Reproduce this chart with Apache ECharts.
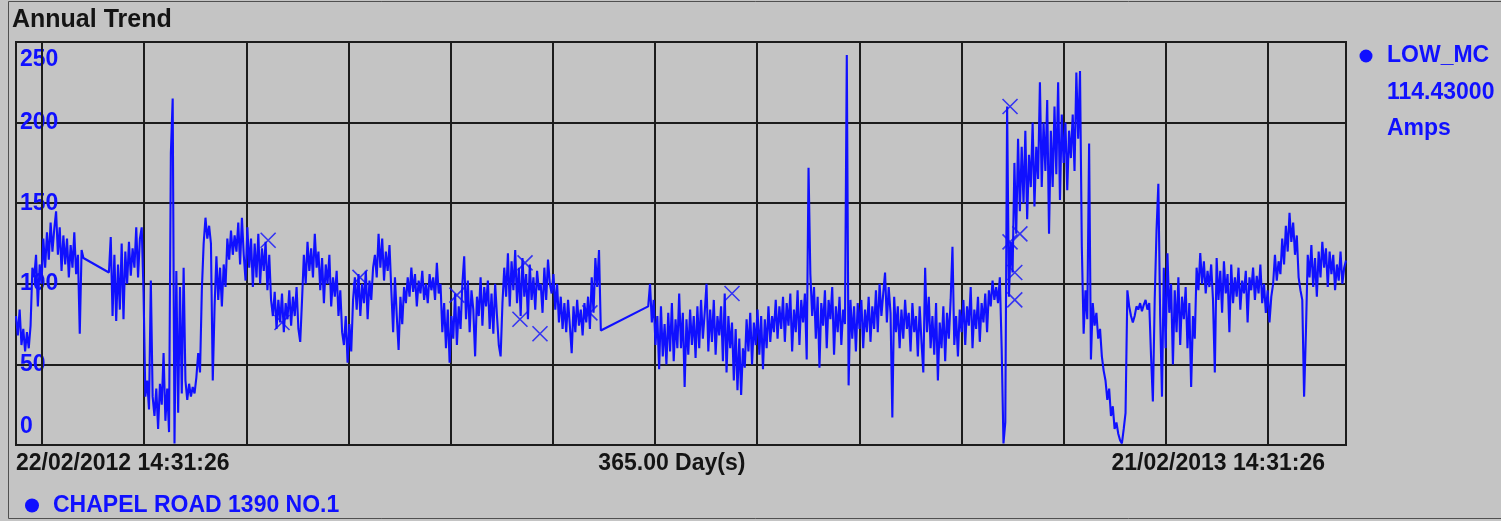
<!DOCTYPE html>
<html>
<head>
<meta charset="utf-8">
<title>Annual Trend</title>
<script src="https://cdn.jsdelivr.net/npm/echarts@6/dist/echarts.min.js"></script>
<style>
  html, body { margin: 0; padding: 0; background: #c4c4c4; }
  #chart { width: 1501px; height: 521px; }
</style>
</head>
<body>
<div id="chart"></div>
<script>
// ---- Trend data: load current in amps, sampled every half day ----
const SERIES_NAME = 'CHAPEL ROAD 1390 NO.1';
const STEP_DAYS = 0.5;
const segmentStartDays = [0, 25.5, 173.5];

// days 0 - 18.5
const ampsSegA = [
  80, 68, 84, 62, 72, 58, 70, 60, 74, 110,
  104, 118, 86, 112, 100, 128, 110, 132, 115, 138,
  120, 134, 145, 118, 135, 108, 130, 112, 128, 104,
  124, 110, 132, 106, 118, 69, 121, 116
];

// days 25.5 - 160.5
const ampsSegB = [
  107, 129, 80, 118, 77, 112, 84, 125, 78,
  120, 100, 126, 105, 122, 110, 135, 104, 128, 135,   // 30
  95, 30, 40, 22, 102, 30, 18, 35, 10, 38,             // 35
  25, 57, 15, 35, 8, 181, 215, 1, 108, 20,             // 40
  98, 32, 110, 40, 28, 38, 30, 36, 32, 42,             // 45
  57, 45, 96, 125, 141, 128, 136, 125, 40, 86,         // 50
  117, 90, 110, 86, 112, 98, 128, 115, 133, 118,       // 55
  130, 120, 138, 112, 141, 118, 102, 135, 110, 128,    // 60
  98, 125, 104, 131, 100, 122, 108, 126, 96, 118,      // 65
  90, 80, 95, 72, 90, 76, 94, 70, 88, 78,              // 70
  96, 74, 92, 80, 98, 72, 64, 90, 118, 100,            // 75
  126, 108, 122, 104, 131, 110, 120, 96, 116, 88,      // 80
  112, 100, 118, 86, 104, 92, 108, 80, 96, 70,         // 85
  62, 80, 51, 75, 58, 90, 104, 84, 106, 80,            // 90
  100, 88, 108, 78, 102, 90, 110, 118, 104, 131,       // 95
  110, 128, 102, 120, 108, 124, 96, 70, 104, 80,       // 100
  59, 92, 75, 98, 88, 104, 92, 110, 95, 106,           // 105
  86, 102, 94, 108, 90, 100, 88, 106, 96, 104,         // 110
  90, 113, 94, 100, 70, 88, 60, 84, 51, 80,            // 115
  66, 94, 62, 86, 72, 100, 117, 78, 102, 70,           // 120
  96, 84, 55, 92, 80, 104, 74, 98, 86, 102,            // 125
  72, 94, 69, 100, 80, 62, 55, 88, 110, 92,            // 130
  119, 86, 114, 96, 121, 88, 110, 80, 116, 92,         // 135
  106, 78, 112, 90, 104, 84, 108, 96, 100, 82,         // 140
  110, 90, 115, 100, 94, 106, 84, 100, 76, 92,         // 145
  72, 88, 70, 90, 74, 57, 86, 70, 90, 74,              // 150
  84, 68, 88, 76, 92, 72, 104, 82, 116, 98,            // 155
  121, 71
];

// days 173.5 - 365
const ampsSegC = [
  86, 100, 76,
  90, 62, 80, 47, 86, 55, 75, 50, 82, 58,              // 175
  88, 52, 78, 60, 94, 60, 82, 36, 78, 56,              // 180
  84, 62, 80, 54, 86, 60, 90, 66, 82, 100,             // 185
  58, 84, 64, 90, 56, 80, 68, 86, 52, 94,              // 190
  45, 80, 60, 76, 40, 72, 34, 66, 31, 60,              // 195
  48, 78, 58, 82, 50, 76, 62, 84, 56, 80,              // 200
  47, 78, 60, 86, 64, 80, 70, 90, 66, 86,              // 205
  72, 92, 64, 88, 74, 94, 58, 84, 70, 96,              // 210
  62, 90, 76, 94, 53, 172, 106, 80, 98, 66,            // 215
  92, 48, 88, 74, 96, 60, 90, 78, 98, 56,              // 220
  86, 70, 92, 62, 84, 75, 242, 37, 90, 66,             // 225
  86, 58, 88, 72, 90, 60, 84, 70, 92, 64,              // 230
  86, 72, 96, 70, 100, 80, 94, 107, 76, 98,            // 235
  82, 17, 92, 70, 86, 60, 84, 66, 90, 72,              // 240
  82, 58, 88, 70, 80, 55, 86, 64, 45, 110,             // 245
  70, 92, 60, 80, 56, 88, 40, 76, 60, 86,              // 250
  52, 82, 66, 90, 123, 62, 80, 55, 84, 70,             // 255
  90, 62, 86, 74, 98, 60, 84, 72, 92, 64,              // 260
  88, 76, 94, 70, 96, 86, 102, 90, 98, 88,             // 265
  104, 60, 1, 14, 210, 92, 126, 107, 175, 131,         // 270
  190, 145, 185, 150, 195, 140, 180, 160, 200, 148,    // 275
  185, 165, 225, 160, 200, 170, 214, 131, 195, 160,    // 280
  210, 168, 225, 152, 205, 175, 200, 158, 195, 178,    // 285
  205, 170, 231, 190, 232, 123, 69, 96, 78, 187,       // 290
  53, 88, 74, 82, 66, 72, 55, 46, 40, 28,              // 295
  35, 18, 24, 10, 14, 7, 3, 1, 10, 20,                 // 300
  96, 86, 80, 76, 80, 86, 84, 88, 83, 87,              // 305
  90, 84, 88, 55, 27, 90, 133, 162, 80, 30,            // 310
  110, 60, 119, 82, 100, 50, 96, 70, 104, 62,          // 315
  92, 78, 98, 60, 88, 36, 80, 66, 110, 96,             // 320
  119, 100, 114, 94, 108, 98, 112, 90, 45, 116,        // 325
  90, 108, 82, 114, 94, 106, 70, 112, 88, 104,         // 330
  92, 110, 84, 102, 94, 108, 76, 104, 96, 110,         // 335
  90, 105, 94, 112, 88, 100, 82, 96, 76, 92,           // 340
  100, 118, 102, 114, 106, 128, 112, 136, 120, 144,    // 345
  126, 138, 118, 130, 104, 96, 90, 30, 70, 118,        // 350
  104, 124, 98, 116, 92, 120, 104, 126, 110, 122,      // 355
  98, 120, 106, 118, 96, 112, 102, 120, 100, 110,      // 360
  114.43
];

// Alarm / event markers drawn as crosses
const eventDays = [69.2, 73.0, 94.4, 121.0, 138.3, 139.7, 143.8, 157.5, 196.5, 272.8, 272.8, 274.1, 274.1, 275.5];
const eventAmps = [127, 76, 104, 93, 78, 113, 69, 82, 94, 210, 126, 107, 90, 131];

// Axis ticks
const Y_MIN = 0, Y_MAX = 250, Y_STEP = 50;
const X_SPAN_DAYS = 365;
const xLabelDays = [0, 180, 365];
const xLabelTexts = ['22/02/2012 14:31:26', '365.00 Day(s)', '21/02/2013 14:31:26'];
const firstGridDay = 7.13;
const gridStepDays = 28.04;

// Tag block on the right
const tagName = 'LOW_MC';
const tagUnit = 'Amps';

// ---- Build series points ----
const trendPoints = [];
[ampsSegA, ampsSegB, ampsSegC].forEach((seg, s) => {
  seg.forEach((v, i) => trendPoints.push([segmentStartDays[s] + i * STEP_DAYS, v]));
});
const eventPoints = eventDays.map((d, i) => [d, eventAmps[i]]);
const gridDays = [];
for (let d = firstGridDay; d < X_SPAN_DAYS; d += gridStepDays) gridDays.push(d);
const lastValue = ampsSegC[ampsSegC.length - 1];

const BLUE = '#1010ff';
const GRID = '#1c1c1c';
const FONT = '"Liberation Sans", Arial, sans-serif';

const chart = echarts.init(document.getElementById('chart'), null, { renderer: 'canvas' });

chart.setOption({
  backgroundColor: '#c4c4c4',
  animation: false,
  title: {
    text: 'Annual Trend',
    left: 12, top: 8, padding: 0,
    textStyle: { fontFamily: FONT, fontSize: 25, fontWeight: 'bold', color: '#141414' }
  },
  legend: {
    data: [SERIES_NAME],
    left: 25, top: 494, padding: 0,
    icon: 'circle', itemWidth: 14, itemHeight: 14,
    selectedMode: false,
    textStyle: { fontFamily: FONT, fontSize: 23, fontWeight: 'bold', color: BLUE, padding: [0, 0, 0, 9] }
  },
  grid: {
    left: 16, top: 42, width: 1330, height: 403,
    show: true, borderColor: GRID, borderWidth: 2, backgroundColor: 'transparent'
  },
  xAxis: {
    type: 'value', min: 0, max: X_SPAN_DAYS,
    axisLine: { show: false }, axisTick: { show: false }, splitLine: { show: false },
    axisLabel: {
      customValues: xLabelDays,
      alignMinLabel: 'left', alignMaxLabel: 'right',
      margin: 7,
      fontFamily: FONT, fontSize: 23, fontWeight: 'bold', color: '#141414',
      formatter: function (v) {
        const i = xLabelDays.indexOf(v);
        if (i < 0) return '';
        if (i === xLabelDays.length - 1) return '{r|' + xLabelTexts[i] + '}';
        return xLabelTexts[i];
      },
      rich: {
        r: { fontFamily: FONT, fontSize: 23, fontWeight: 'bold', color: '#141414', padding: [0, 21, 0, 0] }
      }
    }
  },
  yAxis: {
    type: 'value', min: Y_MIN, max: Y_MAX, interval: Y_STEP,
    axisLine: { show: false }, axisTick: { show: false },
    splitLine: { show: true, lineStyle: { color: GRID, width: 2 } },
    axisLabel: {
      inside: true, margin: 4,
      fontFamily: FONT, fontSize: 23, fontWeight: 'bold', color: BLUE,
      lineHeight: 36,
      showMinLabel: true, showMaxLabel: true,
      formatter: function (v) {
        if (v === Y_MAX) return '\n' + v;
        if (v === Y_MIN) return v + '\n';
        return String(v);
      }
    }
  },
  series: [
    {
      name: SERIES_NAME,
      type: 'line',
      data: trendPoints,
      showSymbol: false,
      symbol: 'none',
      sampling: 'none',
      z: 2,
      color: BLUE,
      itemStyle: { color: BLUE },
      lineStyle: { color: BLUE, width: 2.1 },
      emphasis: { disabled: true },
      markLine: {
        silent: true, z: 1,
        symbol: ['none', 'none'],
        label: { show: false },
        lineStyle: { color: GRID, width: 2, type: 'solid' },
        emphasis: { disabled: true },
        data: gridDays.map(d => ({ xAxis: d }))
      }
    },
    {
      name: 'events',
      type: 'scatter',
      data: eventPoints,
      symbol: 'path://M0 0L10 10M10 0L0 10',
      symbolSize: 15,
      z: 3,
      itemStyle: { color: 'rgba(0,0,0,0)', borderColor: BLUE, borderWidth: 1.6 },
      emphasis: { disabled: true }
    }
  ],
  graphic: [
    {
      type: 'rect', silent: true, z: 10,
      shape: { x: 8.5, y: 1.5, width: 1500, height: 517 },
      style: { fill: 'none', stroke: '#505050', lineWidth: 1 }
    },
    {
      type: 'circle', silent: true,
      shape: { cx: 1366, cy: 56, r: 6.5 },
      style: { fill: BLUE }
    },
    {
      type: 'text', silent: true, x: 1387, y: 56,
      style: { text: tagName, fill: BLUE, font: 'bold 23px ' + FONT, verticalAlign: 'middle', align: 'left' }
    },
    {
      type: 'text', silent: true, x: 1387, y: 93,
      style: { text: lastValue.toFixed(5), fill: BLUE, font: 'bold 23px ' + FONT, verticalAlign: 'middle', align: 'left' }
    },
    {
      type: 'text', silent: true, x: 1387, y: 129,
      style: { text: tagUnit, fill: BLUE, font: 'bold 23px ' + FONT, verticalAlign: 'middle', align: 'left' }
    }
  ]
});
</script>
</body>
</html>
